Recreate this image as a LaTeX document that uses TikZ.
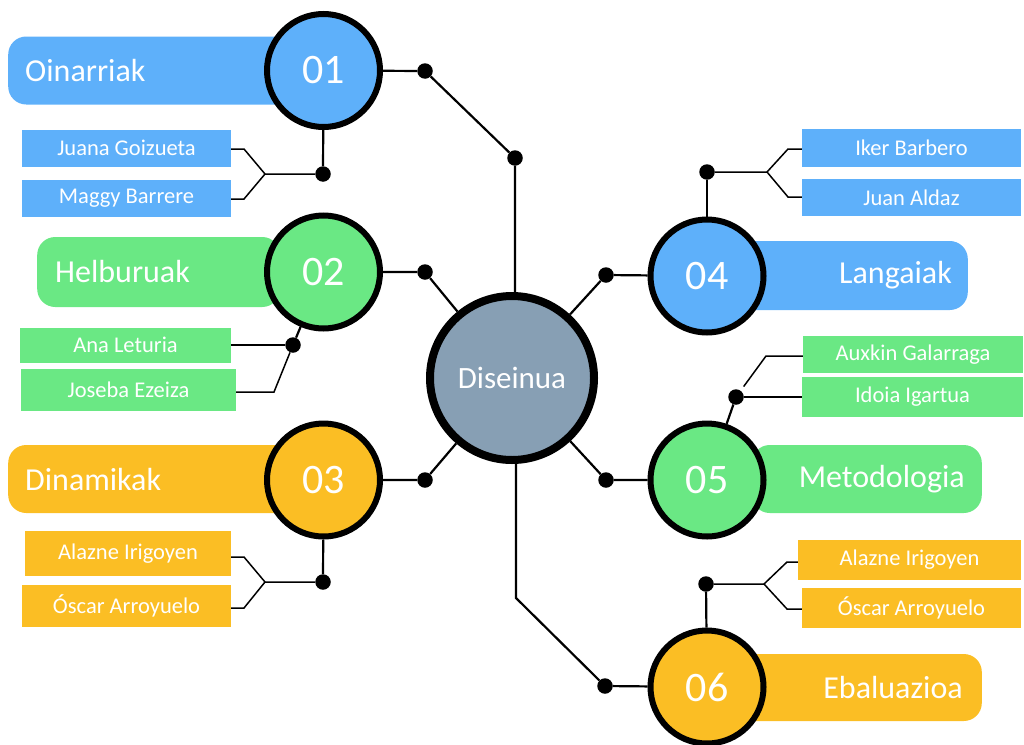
\documentclass[tikz,border=0pt]{standalone}
\usepackage{fontspec}
\setmainfont{Carlito}
\definecolor{sky}{RGB}{94,176,250}
\definecolor{mint}{RGB}{106,232,132}
\definecolor{amber}{RGB}{251,190,36}
\definecolor{slate}{RGB}{135,159,180}

\begin{document}
\begin{tikzpicture}[x=1pt,y=-1pt,
    num/.style={draw,circle,line width=6pt,minimum size=113pt,text=white,font=\fontsize{42}{48}\selectfont},
    hub/.style={draw,circle,line width=8pt,minimum size=164pt,fill=slate,text=white,font=\fontsize{31}{36}\selectfont},
    tabbox/.style={rounded corners=18pt,inner xsep=17pt,minimum height=68pt,text=white,font=\fontsize{32}{38}\selectfont},
    person/.style={inner sep=0pt,text=white,font=\fontsize{22.5}{26}\selectfont},
    blob/.style={circle,fill=black,inner sep=0pt,minimum size=15.5pt},
    link/.style={line width=2.2pt},
    twig/.style={line width=1.5pt}]
  \useasboundingbox (0,0) rectangle (1024,744);

  % tabs behind the numbers
  \node[tabbox,fill=sky,anchor=west,text width=258pt,align=left] (t1) at (8,70.5) {Oinarriak};
  \node[tabbox,fill=mint,anchor=west,text width=207pt,align=left,inner xsep=18pt,minimum height=70pt] (t2) at (37,272) {Helburuak};
  \node[tabbox,fill=amber,anchor=west,text width=258pt,align=left] (t3) at (8,479) {Dinamikak};
  \node[tabbox,fill=sky,anchor=east,text width=216pt,align=right,inner xsep=16pt,minimum height=69pt] (t4) at (968,275.5) {Langaiak};
  \node[tabbox,fill=mint,anchor=east,text width=196pt,align=right] (t5) at (982,479) {Metodologia};
  \node[tabbox,fill=amber,anchor=east,text width=224pt,align=right,inner xsep=19pt,minimum height=67pt] (t6) at (982,687.5) {Ebaluazioa};

  % numbered circles and the centre
  \node[num,fill=sky] (c1) at (323.5,70.5) {01};
  \node[num,fill=mint] (c2) at (323.5,272) {02};
  \node[num,fill=amber] (c3) at (323.5,480) {03};
  \node[num,fill=sky] (c4) at (707,276) {04};
  \node[num,fill=mint] (c5) at (707,480) {05};
  \node[num,fill=amber] (c6) at (707,687) {06};
  \node[hub] (cen) at (512,378) {Diseinua};

  % dots
  \node[blob] (d1) at (425,71) {};
  \node[blob] (d1b) at (515,158) {};
  \node[blob] (d2) at (425,272) {};
  \node[blob] (d3) at (425,480) {};
  \node[blob] (d4) at (606,275) {};
  \node[blob] (d5) at (606,480) {};
  \node[blob] (d6) at (605,686) {};
  \node[blob] (s1) at (323,174) {};
  \node[blob] (s2) at (293,345) {};
  \node[blob] (s3) at (323,582) {};
  \node[blob] (s4) at (707,172) {};
  \node[blob] (s5) at (736,397) {};
  \node[blob] (s6) at (706,584) {};
  \coordinate (k6) at (516,598);

  % name boxes
  \node[person,fill=sky,minimum width=209pt,minimum height=37pt] (jg) at (126.5,148) {Juana Goizueta};
  \node[person,fill=sky,minimum width=209pt,minimum height=37pt] (mb) at (126.5,198.5) {Maggy Barrere};
  \node[person,fill=mint,minimum width=211pt,minimum height=35pt] (al) at (125.5,345) {Ana Leturia};
  \node[person,fill=mint,minimum width=215pt,minimum height=42pt] (je) at (128.5,390) {Joseba Ezeiza};
  \node[person,fill=amber,minimum width=206pt,minimum height=45pt] (ai1) at (128,553.5) {Alazne Irigoyen};
  \node[person,fill=amber,minimum width=209pt,minimum height=42pt] (oa1) at (126.5,606) {Óscar Arroyuelo};
  \node[person,fill=sky,minimum width=219pt,minimum height=38pt] (ib) at (911.5,148) {Iker Barbero};
  \node[person,fill=sky,minimum width=219pt,minimum height=37pt] (ja) at (911.5,197.5) {Juan Aldaz};
  \node[person,fill=mint,minimum width=220pt,minimum height=37pt] (ag) at (913,354.5) {Auxkin Galarraga};
  \node[person,fill=mint,minimum width=221pt,minimum height=40pt] (ii) at (912.5,397) {Idoia Igartua};
  \node[person,fill=amber,minimum width=223pt,minimum height=40pt] (ai2) at (909.5,560) {Alazne Irigoyen};
  \node[person,fill=amber,minimum width=219pt,minimum height=40pt] (oa2) at (911.5,608) {Óscar Arroyuelo};

  % links to the centre
  \draw[link] (c1) -- (d1) -- (d1b) -- (d1b |- cen.north);
  \draw[link] (c2) -- (d2) -- (cen);
  \draw[link] (c3) -- (d3) -- (cen);
  \draw[link] (c4) -- (d4) -- (cen);
  \draw[link] (c5) -- (d5) -- (cen);
  \draw[link] (c6) -- (d6) -- (k6) -- (k6 |- cen.south);

  % branches to the names
  \draw[link] (c1) -- (s1);
  \draw[twig] (s1) -- (265,174) -- (244,149) -- (jg.east |- 0,149);
  \draw[twig] (265,174) -- (244,199) -- (mb.east |- 0,199);
  \draw[link] (c2) -- (s2);
  \draw[twig] (s2) -- (al.east);
  \draw[twig] (s2) -- (274,392) -- (je.east |- 0,392);
  \draw[link] (c3) -- (s3);
  \draw[twig] (s3) -- (265,582) -- (244,557) -- (ai1.east |- 0,557);
  \draw[twig] (265,582) -- (244,608) -- (oa1.east |- 0,608);
  \draw[link] (c4) -- (s4);
  \draw[twig] (s4) -- (767,172) -- (788,149) -- (ib.west |- 0,149);
  \draw[twig] (767,172) -- (788,197) -- (ja.west |- 0,197);
  \draw[link] (c5) -- (s5);
  \draw[twig] (s5) -- (ii.west);
  \draw[twig,shorten <=5pt] (s5) -- (766,356) -- (ag.west |- 0,356);
  \draw[link] (c6) -- (s6);
  \draw[twig] (s6) -- (764,584) -- (787,562) -- (ai2.west |- 0,562);
  \draw[twig] (764,584) -- (787,609) -- (oa2.west |- 0,609);
\end{tikzpicture}
\end{document}
